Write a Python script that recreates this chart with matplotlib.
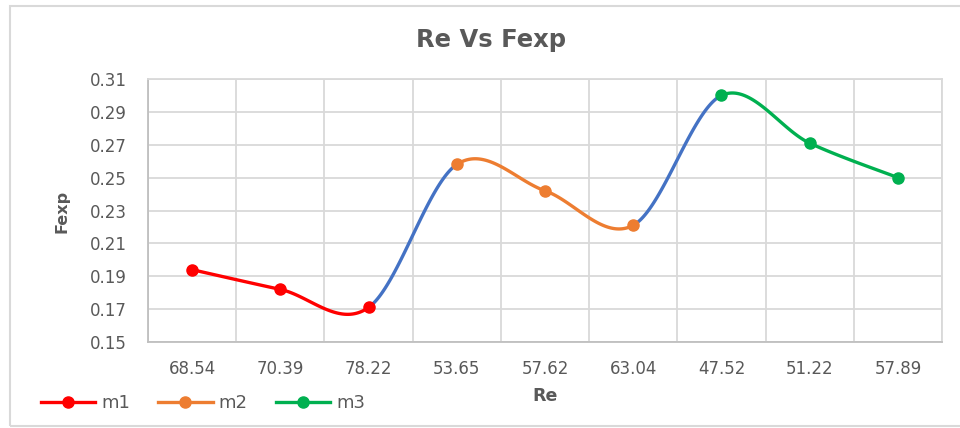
import numpy as np
import matplotlib
matplotlib.use("Agg")
import matplotlib.pyplot as plt
from matplotlib.lines import Line2D
from matplotlib.patches import Rectangle

# Data
re_labels = ["68.54", "70.39", "78.22", "53.65", "57.62", "63.04", "47.52", "51.22", "57.89"]
fexp = [0.194, 0.182, 0.171, 0.258, 0.242, 0.221, 0.300, 0.271, 0.250]
groups = ["m1", "m1", "m1", "m2", "m2", "m2", "m3", "m3", "m3"]
group_names = ["m1", "m2", "m3"]
group_colors = {"m1": "#FF0000", "m2": "#ED7D31", "m3": "#00B050"}
link_color = "#4472C4"
y_ticks = [0.15, 0.17, 0.19, 0.21, 0.23, 0.25, 0.27, 0.29, 0.31]

text_gray = "#595959"
grid_gray = "#D9D9D9"

W, H = 960, 428
fig = plt.figure(figsize=(W / 100, H / 100), dpi=100)
fig.patch.set_facecolor("white")

# outer chart border
fig.patches.append(Rectangle((10 / W, 2 / H), 1.2, (H - 8) / H, transform=fig.transFigure,
                             fill=False, edgecolor=grid_gray, lw=1.5, zorder=0))

ax = fig.add_axes([148 / W, (H - 342) / H, (942 - 148) / W, (342 - 79) / H])

x = np.arange(len(fexp), dtype=float)
y = np.array(fexp, dtype=float)


def bezier_segment(i):
    """Smoothed (Catmull-Rom style) cubic segment between point i and i+1."""
    n = len(x)
    p0 = np.array([x[max(i - 1, 0)], y[max(i - 1, 0)]])
    p1 = np.array([x[i], y[i]])
    p2 = np.array([x[i + 1], y[i + 1]])
    p3 = np.array([x[min(i + 2, n - 1)], y[min(i + 2, n - 1)]])
    c1 = p1 + (p2 - p0) / 6.0
    c2 = p2 - (p3 - p1) / 6.0
    t = np.linspace(0, 1, 60)[:, None]
    pts = ((1 - t) ** 3) * p1 + 3 * ((1 - t) ** 2) * t * c1 + 3 * (1 - t) * t ** 2 * c2 + t ** 3 * p2
    return pts[:, 0], pts[:, 1]


for i in range(len(x) - 1):
    sx, sy = bezier_segment(i)
    col = group_colors[groups[i]] if groups[i] == groups[i + 1] else link_color
    ax.plot(sx, sy, color=col, lw=2.4, solid_capstyle="round", zorder=3)

for g in group_names:
    idx = [k for k, gg in enumerate(groups) if gg == g]
    ax.plot(x[idx], y[idx], linestyle="none", marker="o", markersize=8,
            color=group_colors[g], zorder=4)

ax.set_xlim(-0.5, len(x) - 0.5)
ax.set_ylim(y_ticks[0], y_ticks[-1])
ax.set_yticks(y_ticks)
ax.set_yticklabels([f"{v:.2f}" for v in y_ticks])
ax.set_xticks(x)
ax.set_xticklabels(re_labels)
ax.set_xticks(np.arange(-0.5, len(x), 1.0), minor=True)

ax.grid(False)
ax.xaxis.grid(True, which="minor", color=grid_gray, lw=1.3)
ax.yaxis.grid(True, which="major", color=grid_gray, lw=1.3)
ax.set_axisbelow(True)
for s in ax.spines.values():
    s.set_color(grid_gray)
    s.set_linewidth(1.3)
ax.spines["left"].set_color("#BFBFBF")
ax.spines["bottom"].set_color("#BFBFBF")

ax.tick_params(axis="both", which="both", length=0, labelsize=12, labelcolor=text_gray)
ax.tick_params(axis="y", pad=15)
ax.tick_params(axis="x", pad=13)

fig.text(491 / W, 1 - 40 / H, "Re Vs Fexp", ha="center", va="center",
         fontsize=17.5, fontweight="bold", color=text_gray)
fig.text(545 / W, 1 - 396 / H, "Re", ha="center", va="center",
         fontsize=12.5, fontweight="bold", color=text_gray)
fig.text(62 / W, 1 - 211 / H, "Fexp", ha="center", va="center", rotation=90,
         fontsize=11.5, fontweight="bold", color=text_gray)

handles = [Line2D([], [], color=group_colors[g], lw=2.4, marker="o", markersize=8)
           for g in group_names]
fig.legend(handles, group_names, loc="center left",
           bbox_to_anchor=(41 / W, 1 - 403 / H), ncol=3, frameon=False,
           fontsize=13, labelcolor=text_gray, handlelength=3.0, handletextpad=0.35,
           columnspacing=1.55, borderpad=0, borderaxespad=0)

fig.savefig("out.png", dpi=100, facecolor="white")
